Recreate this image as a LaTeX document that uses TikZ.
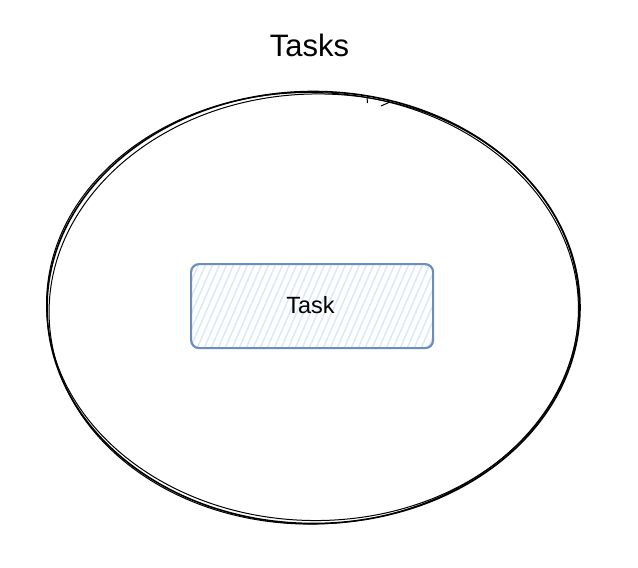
\documentclass[tikz,border=0pt]{standalone}
\usepackage{fontspec}
\setmainfont{Liberation Sans}
\definecolor{boxline}{HTML}{6C8EBF}
\definecolor{boxhatch}{HTML}{DAE8FC}
\begin{document}
\begin{tikzpicture}[x=1pt,y=-1pt,
  sketch/.style={draw=black,line width=1.6pt},
  sketchthin/.style={draw=black,line width=1.0pt},
  taskbox/.style={draw=boxline,line width=2.2pt,rounded corners=8pt},
  hatch/.style={draw=boxhatch,line width=1.5pt},
  lbl/.style={inner sep=0pt,anchor=base}]
\useasboundingbox (0,0) rectangle (638,568);
% outer sketchy ellipse
\draw[sketch] (313.5,307.5) ellipse [x radius=266.5, y radius=216];
\draw[sketchthin] (314,309) [rotate around={2:(314,309)}] ellipse [x radius=265, y radius=215];
\draw[sketchthin] (312.5,306.5) [rotate around={-1.5:(312.5,306.5)}] ellipse [x radius=266, y radius=214];
\coordinate (tickA) at (367,97);
\coordinate (tickB) at (367.5,103);
\draw[sketchthin] (tickA) -- (tickB);
\coordinate (tickC) at (381,106);
\coordinate (tickD) at (390,102);
\draw[sketchthin] (tickC) -- (tickD);
% task box
\begin{scope}
\clip[rounded corners=8pt] (190,263) rectangle (432,347);
\foreach \i in {0,7,...,300} {
  \draw[hatch] (150+\i,360) -- (198+\i,250);
}
\end{scope}
\node[taskbox,minimum width=242pt,minimum height=84pt,anchor=north west,inner sep=0pt] (task) at (190,263) {};
\node[lbl,font=\fontsize{23.5}{26}\selectfont] (tasklbl) at (310.5,313) {Task};
\node[lbl,font=\fontsize{31}{34}\selectfont] (title) at (309.5,56) {Tasks};
\end{tikzpicture}
\end{document}
